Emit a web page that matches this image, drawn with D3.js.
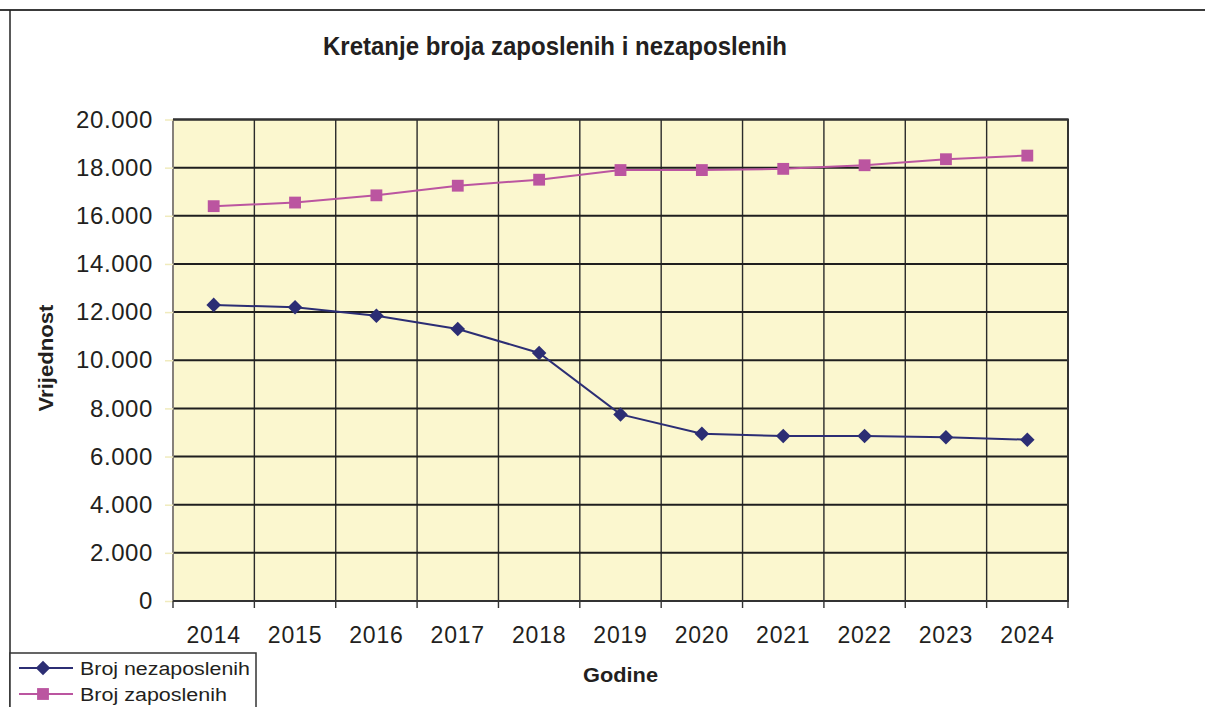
<!DOCTYPE html>
<html>
<head>
<meta charset="utf-8">
<script src="https://cdn.jsdelivr.net/npm/d3@7"></script>
<style>
  body { margin: 0; background: #fff; }
  svg { display: block; font-family: "Liberation Sans", Arial, sans-serif; }
</style>
</head>
<body>
<svg id="chart" width="1205" height="707"></svg>
<script>
// data
const years = ["2014", "2015", "2016", "2017", "2018", "2019", "2020", "2021", "2022", "2023", "2024"]
const nezaposleni = [12300, 12200, 11850, 11300, 10300, 7750, 6950, 6850, 6850, 6800, 6700]
const zaposleni = [16400, 16550, 16850, 17250, 17500, 17900, 17900, 17950, 18100, 18350, 18500]
const yTicks = [0, 2000, 4000, 6000, 8000, 10000, 12000, 14000, 16000, 18000, 20000]

const title = "Kretanje broja zaposlenih i nezaposlenih"
const yTitle = "Vrijednost"
const xTitle = "Godine"
const seriesNames = ["Broj nezaposlenih", "Broj zaposlenih"]

const plot = { left: 173, right: 1068, top: 119.5, bottom: 601 }

const svg = d3.select("#chart")

// outer frame of the chart object
svg.append("line").attr("x1", 0).attr("x2", 1205).attr("y1", 10).attr("y2", 10)
  .attr("stroke", "#3a3a3a").attr("stroke-width", 2)
svg.append("line").attr("x1", 10).attr("x2", 10).attr("y1", 10).attr("y2", 707)
  .attr("stroke", "#222").attr("stroke-width", 1.5)

const x = d3.scaleBand().domain(years).range([plot.left, plot.right]).padding(0)
const y = d3.scaleLinear().domain([0, 20000]).range([plot.bottom, plot.top])

const loc = d3.formatLocale({ decimal: ",", thousands: ".", grouping: [3], currency: ["", ""] })
const fmt = loc.format(",")

// plot background
svg.append("rect")
  .attr("x", plot.left).attr("y", plot.top)
  .attr("width", plot.right - plot.left).attr("height", plot.bottom - plot.top)
  .attr("fill", "#fbf7cf")

// vertical grid lines at category boundaries
svg.append("g").selectAll("line")
  .data(years.slice(1))
  .join("line")
  .attr("x1", d => x(d)).attr("x2", d => x(d))
  .attr("y1", plot.top).attr("y2", plot.bottom)
  .attr("stroke", "#2b2b2b").attr("stroke-width", 1.4)

// horizontal grid lines
svg.append("g").selectAll("line")
  .data(yTicks.slice(1))
  .join("line")
  .attr("x1", plot.left).attr("x2", plot.right)
  .attr("y1", d => y(d)).attr("y2", d => y(d))
  .attr("stroke", "#1f1f1f").attr("stroke-width", 2)

// plot border: gray on the left, dark elsewhere
svg.append("line").attr("x1", plot.left).attr("x2", plot.left)
  .attr("y1", plot.top).attr("y2", plot.bottom)
  .attr("stroke", "#86817a").attr("stroke-width", 2)
svg.append("path")
  .attr("d", `M${plot.left},${plot.top}H${plot.right}V${plot.bottom}H${plot.left}`)
  .attr("fill", "none").attr("stroke", "#333").attr("stroke-width", 2)

// y axis
const yAxis = svg.append("g")
  .attr("transform", `translate(${plot.left},0)`)
  .call(d3.axisLeft(y).tickValues(yTicks).tickFormat(d => d === 0 ? "0" : fmt(d)).tickSize(8).tickPadding(12))
yAxis.select(".domain").remove()
yAxis.selectAll(".tick line").attr("stroke", "#f0ebbd").attr("stroke-width", 1.5)
yAxis.selectAll(".tick text")
  .attr("font-size", 24).attr("fill", "#231f20")
  .attr("font-family", "Liberation Sans, Arial, sans-serif")
  .attr("letter-spacing", 0.6)

// x axis labels
const xAxis = svg.append("g")
  .attr("transform", `translate(0,${plot.bottom})`)
  .call(d3.axisBottom(x).tickSize(0).tickPadding(26))
xAxis.select(".domain").remove()
xAxis.selectAll(".tick text")
  .attr("font-size", 23).attr("fill", "#231f20")
  .attr("font-family", "Liberation Sans, Arial, sans-serif")
  .attr("letter-spacing", 0.8)

// x tick marks at category boundaries
svg.append("g").selectAll("line")
  .data(years.map(d => x(d)).concat([x.range()[1]]))
  .join("line")
  .attr("x1", d => d).attr("x2", d => d)
  .attr("y1", plot.bottom).attr("y2", plot.bottom + 7)
  .attr("stroke", "#333").attr("stroke-width", 1.4)

// lines
const line = d3.line()
  .x((d, i) => x(years[i]) + x.bandwidth() / 2)
  .y(d => y(d))

const blue = "#2c2e74"
const pink = "#bb55a0"

svg.append("path").datum(zaposleni)
  .attr("d", line).attr("fill", "none").attr("stroke", pink).attr("stroke-width", 2)
svg.append("path").datum(nezaposleni)
  .attr("d", line).attr("fill", "none").attr("stroke", blue).attr("stroke-width", 2)

const diamond = d3.symbol().type(d3.symbolDiamond2).size(135)
const square = d3.symbol().type(d3.symbolSquare).size(140)

svg.append("g").selectAll("path")
  .data(zaposleni)
  .join("path")
  .attr("transform", (d, i) => `translate(${x(years[i]) + x.bandwidth() / 2},${y(d)})`)
  .attr("d", square()).attr("fill", pink)

svg.append("g").selectAll("path")
  .data(nezaposleni)
  .join("path")
  .attr("transform", (d, i) => `translate(${x(years[i]) + x.bandwidth() / 2},${y(d)})`)
  .attr("d", diamond()).attr("fill", blue)

// titles
svg.append("text")
  .attr("x", 555).attr("y", 55)
  .attr("text-anchor", "middle")
  .attr("font-size", 25).attr("font-weight", "bold").attr("fill", "#231f20")
  .attr("textLength", 464).attr("lengthAdjust", "spacingAndGlyphs")
  .text(title)

svg.append("text")
  .attr("transform", "translate(53,358) rotate(-90)")
  .attr("text-anchor", "middle")
  .attr("font-size", 20).attr("font-weight", "bold").attr("fill", "#231f20")
  .attr("textLength", 107).attr("lengthAdjust", "spacingAndGlyphs")
  .text(yTitle)

svg.append("text")
  .attr("x", (plot.left + plot.right) / 2).attr("y", 682)
  .attr("text-anchor", "middle")
  .attr("font-size", 21).attr("font-weight", "bold").attr("fill", "#231f20")
  .attr("textLength", 75).attr("lengthAdjust", "spacingAndGlyphs")
  .text(xTitle)

// legend
const legend = svg.append("g")
legend.append("rect")
  .attr("x", 10).attr("y", 653).attr("width", 246).attr("height", 70)
  .attr("fill", "#fff").attr("stroke", "#333").attr("stroke-width", 1.5)

const legendRows = [
  { name: seriesNames[0], color: blue, symbol: diamond, y: 668, w: 170 },
  { name: seriesNames[1], color: pink, symbol: square, y: 694, w: 147 }
]
const row = legend.selectAll("g.row").data(legendRows).join("g").attr("class", "row")
row.append("line")
  .attr("x1", 19).attr("x2", 73).attr("y1", d => d.y).attr("y2", d => d.y)
  .attr("stroke", d => d.color).attr("stroke-width", 2)
row.append("path")
  .attr("transform", d => `translate(43,${d.y})`)
  .attr("d", d => d.symbol()).attr("fill", d => d.color)
row.append("text")
  .attr("x", 80).attr("y", d => d.y + 6.5)
  .attr("font-size", 18).attr("fill", "#231f20")
  .attr("textLength", d => d.w).attr("lengthAdjust", "spacingAndGlyphs")
  .text(d => d.name)
</script>
</body>
</html>
